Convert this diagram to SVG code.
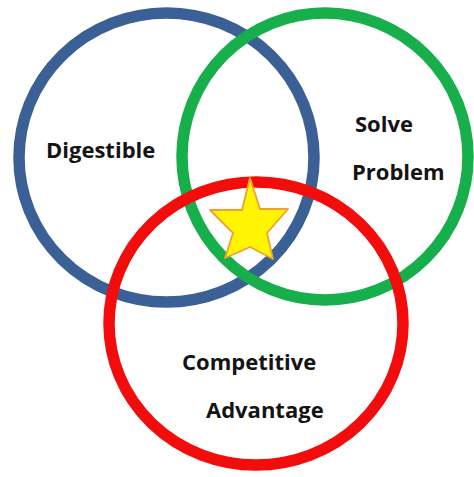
<svg xmlns="http://www.w3.org/2000/svg" width="474" height="477" viewBox="0 0 474 477">
<style>
.ring{fill:none;stroke-width:11.5}
.lbl{font-family:"Open Sans","Liberation Sans",sans-serif;font-weight:bold;font-size:22px;fill:#141414}
</style>
<rect width="474" height="477" fill="#ffffff"/>
<g id="connectors"></g>
<g id="digestible">
<ellipse class="ring" cx="166.5" cy="157.5" rx="147.5" ry="144.5" stroke="#3B6096"/>
<text class="lbl" x="46" y="158">Digestible</text>
</g>
<g id="solve-problem">
<ellipse class="ring" cx="325" cy="156.5" rx="143" ry="143.5" stroke="#17AE4C"/>
<text class="lbl" x="355" y="132">Solve</text>
<text class="lbl" x="352" y="180">Problem</text>
</g>
<g id="competitive-advantage">
<ellipse class="ring" cx="256" cy="323.5" rx="147" ry="141.5" stroke="#F20C0C"/>
<text class="lbl" x="182" y="370">Competitive</text>
<text class="lbl" x="206" y="418">Advantage</text>
</g>
<g id="star">
<polygon points="250,178 260,209 288,209 267,233 273,259 250,247 225,258 233,233 210,210 242,210" fill="#FFF500" stroke="#F0A030" stroke-width="1.8" stroke-linejoin="round"/>
</g>
</svg>
